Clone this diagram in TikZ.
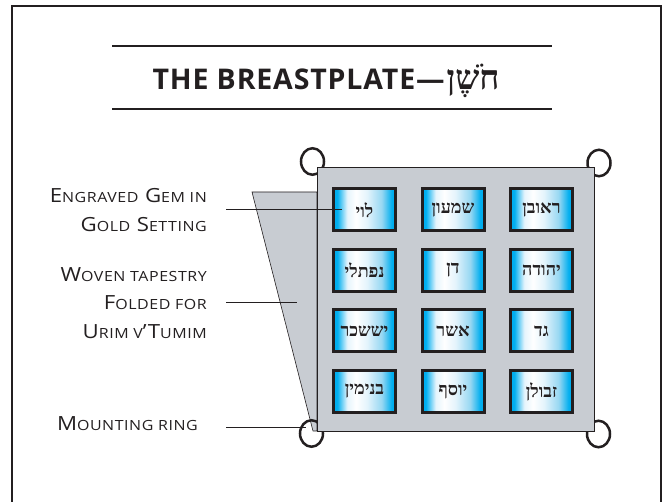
\documentclass[tikz,border=0pt]{standalone}
\usepackage{fontspec}
\setmainfont{Open Sans}
\newfontfamily\titlefont[LetterSpace=3]{Open Sans}
\newfontfamily\lblfont[LetterSpace=4,FakeStretch=1.14]{Open Sans}
\newfontface\hebbold[Script=Hebrew]{Liberation Serif Bold}
\TeXXeTstate=1
\usetikzlibrary{shapes.geometric}
\definecolor{inkgray}{RGB}{35,31,32}
\definecolor{plategray}{RGB}{200,204,210}
\definecolor{gemcyan}{RGB}{0,174,239}
\definecolor{gempale}{RGB}{150,215,242}
\definecolor{gemlight}{RGB}{228,244,252}
\pgfdeclarehorizontalshading{gemshade}{100bp}{color(0bp)=(gemcyan); color(28bp)=(gemcyan);
  color(36bp)=(gemlight); color(43bp)=(white); color(52bp)=(gemlight);
  color(64bp)=(gempale); color(72bp)=(gemcyan); color(100bp)=(gemcyan)}
\newcommand\lowc[1]{{\fontsize{14}{28.5}\selectfont#1}}
\newcommand\heb[1]{{\hebbold\beginR#1\endR}}
\begin{document}
\begin{tikzpicture}[
    x=1pt,y=-1pt,
    every node/.style={text=inkgray},
    lbl/.style={font=\lblfont\fontsize{19.5}{28.5}\selectfont,align=right,anchor=east,inner sep=0pt},
    gem/.style={draw=inkgray,line width=3pt,shade,shading=gemshade,
        minimum width=62pt,minimum height=42pt,inner sep=0pt,
        font=\hebbold\fontsize{18}{18}\selectfont},
    ring/.style={draw=inkgray,line width=2.5pt,ellipse,
        minimum width=23pt,minimum height=26.5pt,inner sep=0pt},
    leader/.style={inkgray,line width=1pt}]
    \useasboundingbox (0,0) rectangle (667,502);
    \draw[inkgray,line width=2pt] (12,520) -- (12,6) -- (661,6) -- (661,520);
    \node[anchor=base,font=\titlefont\bfseries\fontsize{28.5}{30}\selectfont] (title)
        at (326,90) {THE BREASTPLATE—\kern2pt{\fontsize{34}{34}\selectfont\heb{חֹשֶׁן}}};
    \draw[inkgray,line width=1.2pt] (112,46) -- (552,46);
    \draw[inkgray,line width=1.2pt] (112,109) -- (552,109);
    \filldraw[fill=plategray,draw=inkgray,line width=.6pt]
        (252,192) -- (317,192) -- (317,431) -- (313,431) -- cycle;
    \node[ring] (rtl) at (312.5,161.5) {};
    \node[ring] (rtr) at (599,163) {};
    \node[ring] (rbl) at (311.5,433.5) {};
    \node[ring] (rbr) at (598.5,434) {};
    \filldraw[fill=plategray,draw=inkgray,line width=.8pt] (317,167) rectangle (594,431);
    \foreach \r/\names in {1/{לוי,שמעון,ראובן},2/{נפתלי,דן,יהודה},
                           3/{יששכר,אשר,גד},4/{בנימין,יוסף,זבולן}} {
        \foreach \nm [count=\c] in \names {
            \node[gem] (g-\r-\c) at ({364.5+88.5*(\c-1)},{210+60.5*(\r-1)}) {\beginR\nm\endR};
        }
    }
    \node[lbl] (lgem) at (207,210) {E\lowc{NGRAVED} G\lowc{EM IN}\\G\lowc{OLD} S\lowc{ETTING}};
    \node[lbl] (lfold) at (207,303) {W\lowc{OVEN TAPESTRY}\\F\lowc{OLDED FOR}\\U\lowc{RIM V}’T\lowc{UMIM}};
    \node[lbl] (lring) at (198,424) {M\lowc{OUNTING RING}};
    \coordinate (foldpt) at (297,303);
    \draw[leader] ([xshift=19pt]lgem.east) -- ([xshift=10pt]g-1-1.west);
    \draw[leader] ([xshift=19pt]lfold.east) -- (foldpt);
    \draw[leader] ([xshift=28pt,yshift=-4pt]lring.east) -- ([xshift=-6pt,yshift=5.5pt]rbl.center);
\end{tikzpicture}
\end{document}
